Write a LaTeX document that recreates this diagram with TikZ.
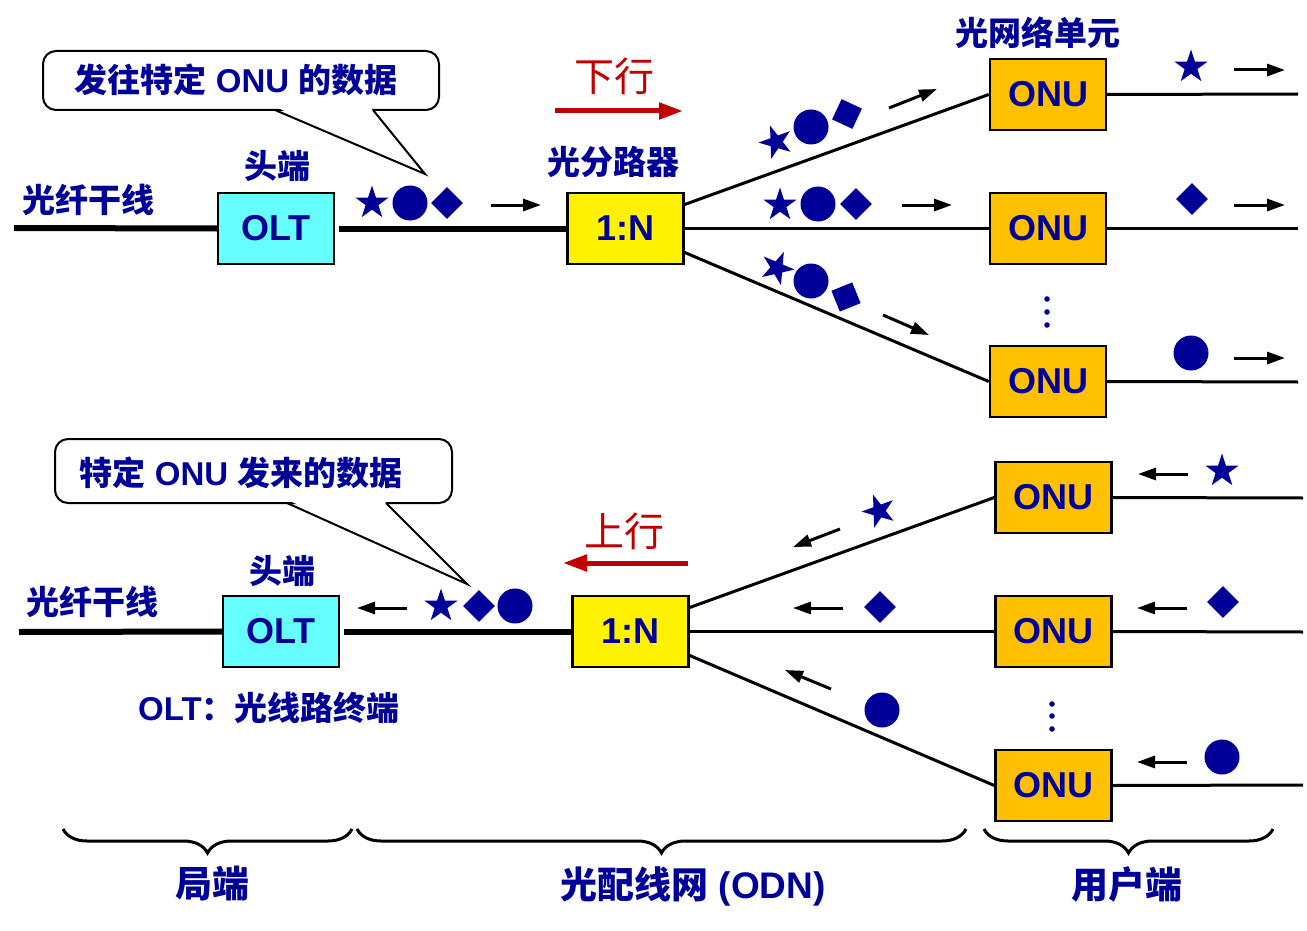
\documentclass[tikz,border=0pt]{standalone}
\usepackage{fontspec}
\setmainfont{Liberation Sans}
\newfontfamily\cjk{Noto Sans CJK SC}
\usetikzlibrary{shapes.geometric,decorations.pathreplacing,arrows.meta,calc}
\definecolor{navy}{HTML}{000099}
\definecolor{oltcyan}{HTML}{66FFFF}
\definecolor{onuorange}{HTML}{FFC000}
\definecolor{darkred}{HTML}{C00000}
\begin{document}
\begin{tikzpicture}[x=0.5pt,y=-0.5pt,
  box/.style={draw=black,line width=1.2pt,minimum width=58pt,minimum height=35.5pt,inner sep=0pt,text=navy,font=\bfseries\fontsize{18}{20}\selectfont},
  oltbox/.style={box,fill=oltcyan},
  splbox/.style={box,fill=yellow},
  onubox/.style={box,fill=onuorange},
  lbl/.style={text=navy,inner sep=0pt,font=\cjk\bfseries\fontsize{16.5}{18}\selectfont},
  mixlbl/.style={text=navy,inner sep=0pt,font=\bfseries\fontsize{16.5}{18}\selectfont},
  biglbl/.style={text=navy,inner sep=0pt,font=\bfseries\fontsize{18.5}{20}\selectfont},
  dirlbl/.style={text=darkred,inner sep=0pt,font=\cjk\fontsize{20}{22}\selectfont},
  sstar/.style={star,star points=5,star point ratio=2.6,fill=navy,inner sep=0pt,minimum size=17.5pt},
  scirc/.style={circle,fill=navy,inner sep=0pt,minimum size=17.5pt},
  sdia/.style={rectangle,fill=navy,inner sep=0pt,minimum size=11.2pt},
  trunk/.style={line width=3pt},
  fiber/.style={line width=1.5pt},
  sarr/.style={line width=1.5pt,-{Triangle[length=9pt,width=6pt]}},
  rarr/.style={line width=2.5pt,draw=darkred,-{Triangle[length=12pt,width=8pt]}},
  callout/.style={draw=black,line width=1pt,fill=white,rounded corners=6.5pt},
  brc/.style={decorate,decoration={brace,mirror,amplitude=12pt},line width=1.5pt},
  vdot/.style={circle,fill=navy,inner sep=0pt,minimum size=2.8pt}
]
\useasboundingbox (0,0) rectangle (1307,931);

% ================= DOWNSTREAM (top) =================
\node[oltbox] (olt1) at (276,228.5) {OLT};
\node[splbox] (spl1) at (625.5,228.5) {1:N};
\node[onubox] (onu11) at (1048,94.5) {ONU};
\node[onubox] (onu12) at (1048,228.5) {ONU};
\node[onubox] (onu13) at (1048,381.5) {ONU};
\coordinate (t1start) at (14,228);
\coordinate (e11) at (1298,94);
\coordinate (e12) at (1298,228.5);
\coordinate (e13) at (1298,382);

\draw[trunk] (t1start) -- (olt1.west);
\draw[trunk] ([xshift=2pt]olt1.east) -- (spl1.west);
\draw[fiber] ([yshift=12pt]spl1.east) -- (onu11.west);
\draw[fiber] (spl1.east) -- (onu12.west);
\draw[fiber] ([yshift=-12pt]spl1.east) -- (onu13.west);
\draw[fiber] (onu11.east) -- (e11);
\draw[fiber] (onu12.east) -- (e12);
\draw[fiber] (onu13.east) -- (e13);

\node[lbl] (lt1) at (88,200) {光纤干线};
\node[lbl] (he1) at (277,166) {头端};
\node[lbl] (fl1) at (613,162) {光分路器};
\node[lbl] (onul) at (1038,33) {光网络单元};
\node[dirlbl] (down) at (614,76) {下行};
\draw[rarr] (555,111) -- (683,111);

% callout 1
\draw[callout] (43,51) rectangle (439,110);
\fill[white] (278,108) -- (425,174) -- (371,108) -- cycle;
\draw[line width=1pt] (275,110) -- (425,174) -- (373,110);
\node[mixlbl] (c1) at (236,80) {{\cjk 发往特定} ONU {\cjk 的数据}};

% symbols on trunk
\node[sstar] (a1) at (372,203) {};
\node[scirc] (a2) at (410,203) {};
\node[sdia,rotate=45] (a3) at (447,203) {};
\draw[sarr] (491,205) -- (541,205);

% upper branch
\node[sstar,rotate=20] (b1) at (776,142) {};
\node[scirc] (b2) at (811,127) {};
\node[sdia,rotate=65] (b3) at (847,114) {};
\draw[sarr] (889,108) -- (937,89);
% middle branch
\node[sstar] (m1) at (780,205) {};
\node[scirc] (m2) at (818,204) {};
\node[sdia,rotate=45] (m3) at (856,204) {};
\draw[sarr] (902,205) -- (952,205);
% lower branch
\node[sstar,rotate=-23] (l1) at (777,268) {};
\node[scirc] (l2) at (811,281) {};
\node[sdia,rotate=22] (l3) at (846,297) {};
\draw[sarr] (883,315) -- (929,335);

% right of ONUs
\node[sstar] (r1) at (1191,67) {};
\draw[sarr] (1234,70) -- (1285,70);
\node[sdia,rotate=45] (r2) at (1192,199) {};
\draw[sarr] (1234,205) -- (1285,205);
\node[scirc] (r3) at (1191,353) {};
\draw[sarr] (1234,358) -- (1285,358);

\node[vdot] (d1) at (1047,299) {};
\node[vdot] (d2) at (1047,312) {};
\node[vdot] (d3) at (1047,325) {};

% ================= UPSTREAM (bottom) =================
\node[oltbox] (olt2) at (281,631.5) {OLT};
\node[splbox] (spl2) at (630.5,631.5) {1:N};
\node[onubox] (onu21) at (1053.5,497.5) {ONU};
\node[onubox] (onu22) at (1053.5,631.5) {ONU};
\node[onubox] (onu23) at (1053.5,785.5) {ONU};
\coordinate (t2start) at (19,632);
\coordinate (e21) at (1303,498);
\coordinate (e22) at (1303,632);
\coordinate (e23) at (1303,785);

\draw[trunk] (t2start) -- (olt2.west);
\draw[trunk] ([xshift=2pt]olt2.east) -- (spl2.west);
\draw[fiber] ([yshift=12pt]spl2.east) -- (onu21.west);
\draw[fiber] (spl2.east) -- (onu22.west);
\draw[fiber] ([yshift=-12pt]spl2.east) -- (onu23.west);
\draw[fiber] (onu21.east) -- (e21);
\draw[fiber] (onu22.east) -- (e22);
\draw[fiber] (onu23.east) -- (e23);

\node[lbl] (lt2) at (92,602) {光纤干线};
\node[lbl] (he2) at (282,571) {头端};
\node[mixlbl] (oltdef) at (269,708) {OLT{\cjk ：光线路终端}};
\node[dirlbl] (up) at (624,531) {上行};
\draw[rarr] (688,563) -- (563,563);

% callout 2
\draw[callout] (55,439) rectangle (452,503);
\fill[white] (290,501) -- (467,584) -- (384,501) -- cycle;
\draw[line width=1pt] (287,503) -- (467,584) -- (386,503);
\node[mixlbl] (c2) at (241,473) {{\cjk 特定} ONU {\cjk 发来的数据}};

% symbols on trunk
\node[sstar] (u1) at (441,606) {};
\node[sdia,rotate=45] (u2) at (479,606) {};
\node[scirc] (u3) at (515,606) {};
\draw[sarr] (407,608) -- (357,608);

% branches
\node[sstar,rotate=20] (ub1) at (879,511) {};
\draw[sarr] (840,529) -- (793,547);
\node[sdia,rotate=45] (um1) at (880,607) {};
\draw[sarr] (843,608) -- (793,608);
\node[scirc] (ul1) at (882,710) {};
\draw[sarr] (831,689) -- (785,670);

% right of ONUs
\node[sstar] (ur1) at (1222,471) {};
\draw[sarr] (1188,474) -- (1138,474);
\node[sdia,rotate=45] (ur2) at (1223,602) {};
\draw[sarr] (1187,608) -- (1137,608);
\node[scirc] (ur3) at (1222,757) {};
\draw[sarr] (1187,762) -- (1137,762);

\node[vdot] (d4) at (1052,704) {};
\node[vdot] (d5) at (1052,716) {};
\node[vdot] (d6) at (1052,729) {};

% ================= braces =================
\coordinate (b1l) at (63,829);
\coordinate (b1r) at (352,829);
\coordinate (b2l) at (357,829);
\coordinate (b2r) at (966,829);
\coordinate (b3l) at (984,829);
\coordinate (b3r) at (1273,829);
\draw[brc] (b1l) -- (b1r);
\draw[brc] (b2l) -- (b2r);
\draw[brc] (b3l) -- (b3r);
\node[biglbl] (ju) at (212,884) {\cjk 局端};
\node[biglbl] (odn) at (693,886) {{\cjk 光配线网} (ODN)};
\node[biglbl] (yh) at (1127,884) {\cjk 用户端};
\end{tikzpicture}
\end{document}
